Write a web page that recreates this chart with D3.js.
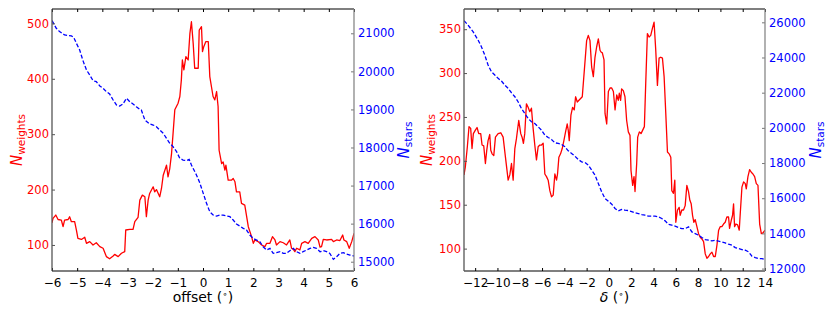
<!DOCTYPE html>
<html>
<head>
<meta charset="utf-8">
<script src="https://cdn.jsdelivr.net/npm/d3@7"></script>
<style>
  body { margin: 0; background: #fff; }
  text { font-family: "DejaVu Sans", sans-serif; }
</style>
</head>
<body>
<div id="chart"></div>
<script>
// left panel: weights vs offset
var offsetWeights = [[-6,140],[-5.96,148],[-5.85,154],[-5.76,146],[-5.63,145],[-5.56,133],[-5.5,145],[-5.36,146],[-5.3,151],[-5.23,142],[-5.1,142],[-5.03,127],[-4.97,112],[-4.83,110],[-4.7,114],[-4.63,103],[-4.5,106],[-4.37,100],[-4.24,104],[-4.1,97],[-3.97,94],[-3.84,79],[-3.71,75],[-3.57,80],[-3.51,83],[-3.37,79],[-3.24,85],[-3.11,88],[-3.07,127],[-2.91,128],[-2.78,128],[-2.71,142],[-2.58,150],[-2.51,181],[-2.41,190],[-2.31,187],[-2.25,151],[-2.18,181],[-2.12,193],[-1.98,205],[-1.92,196],[-1.85,200],[-1.72,187],[-1.65,202],[-1.58,226],[-1.45,244],[-1.39,223],[-1.32,238],[-1.25,265],[-1.19,301],[-1.12,344],[-0.99,356],[-0.92,368],[-0.86,398],[-0.82,434],[-0.76,416],[-0.68,440],[-0.59,434],[-0.52,482],[-0.46,503],[-0.39,464],[-0.33,419],[-0.19,419],[-0.15,488],[-0.06,494],[-0.02,449],[0.03,458],[0.11,467],[0.21,467],[0.27,404],[0.40,368],[0.47,362],[0.54,377],[0.60,350],[0.64,271],[0.74,247],[0.80,250],[0.87,235],[0.91,244],[1.00,217],[1.13,217],[1.20,220],[1.27,214],[1.33,196],[1.46,196],[1.53,175],[1.66,172],[1.80,133],[1.93,115],[2.00,103],[2.06,109],[2.19,106],[2.33,100],[2.46,97],[2.53,103],[2.66,103],[2.76,115],[2.86,109],[2.92,100],[3.06,106],[3.19,104],[3.32,100],[3.45,109],[3.52,94],[3.59,92],[3.65,88],[3.72,94],[3.85,91],[3.92,103],[4.05,106],[4.18,103],[4.32,112],[4.45,115],[4.58,109],[4.65,96],[4.71,97],[4.78,110],[4.91,109],[5.11,110],[5.18,106],[5.31,109],[5.44,108],[5.55,118],[5.60,109],[5.71,106],[5.81,94],[5.91,106],[6.0,121]];

var offsetStars = [[-6,21333],[-5.83,21131],[-5.70,21044],[-5.50,20956],[-5.23,20930],[-5.14,20895],[-5.03,20737],[-4.90,20562],[-4.77,20282],[-4.63,20036],[-4.50,19905],[-4.37,19756],[-4.24,19730],[-4.10,19616],[-3.97,19555],[-3.84,19467],[-3.71,19406],[-3.57,19248],[-3.44,19117],[-3.31,19090],[-3.18,19143],[-3.04,19292],[-2.91,19204],[-2.78,19143],[-2.65,19073],[-2.51,19003],[-2.45,18985],[-2.31,18722],[-2.12,18617],[-1.98,18591],[-1.85,18547],[-1.72,18460],[-1.58,18372],[-1.45,18241],[-1.32,18109],[-1.19,18022],[-1.05,17890],[-0.92,17715],[-0.79,17671],[-0.66,17654],[-0.55,17689],[-0.46,17540],[-0.26,17277],[-0.13,17076],[0.01,16796],[0.14,16533],[0.27,16314],[0.40,16226],[0.54,16200],[0.67,16226],[0.80,16226],[0.93,16200],[1.07,16182],[1.20,16095],[1.33,15990],[1.46,15937],[1.60,15876],[1.73,15832],[1.86,15701],[2.00,15613],[2.13,15569],[2.26,15525],[2.39,15394],[2.53,15307],[2.66,15350],[2.79,15219],[2.92,15236],[3.06,15263],[3.19,15219],[3.32,15219],[3.45,15289],[3.59,15350],[3.72,15263],[3.85,15219],[3.98,15263],[4.12,15307],[4.25,15350],[4.38,15377],[4.51,15350],[4.65,15263],[4.78,15289],[4.91,15263],[5.04,15219],[5.18,15061],[5.31,15131],[5.44,15219],[5.58,15236],[5.71,15201],[5.84,15175],[6.0,15149]];

// right panel: weights vs declination
var deltaWeights = [[-13,184],[-12.88,193],[-12.70,216],[-12.55,239],[-12.40,237],[-12.28,214],[-12.16,231],[-11.98,235],[-11.83,238],[-11.68,231],[-11.50,231],[-11.38,218],[-11.23,217],[-11.08,197],[-10.96,212],[-10.84,223],[-10.69,230],[-10.60,212],[-10.48,208],[-10.33,206],[-10.18,227],[-9.94,231],[-9.70,232],[-9.49,227],[-9.28,204],[-9.04,178],[-8.89,184],[-8.74,197],[-8.59,178],[-8.44,214],[-8.30,225],[-8.09,246],[-7.91,231],[-7.79,227],[-7.67,220],[-7.55,231],[-7.40,265],[-7.25,261],[-7.10,256],[-6.95,260],[-6.80,237],[-6.65,218],[-6.50,201],[-6.35,216],[-6.20,218],[-6.05,218],[-5.90,220],[-5.75,185],[-5.60,182],[-5.45,178],[-5.30,166],[-5.15,159],[-5.00,161],[-4.85,185],[-4.70,178],[-4.61,185],[-4.49,204],[-4.34,208],[-4.19,214],[-4.04,223],[-3.89,233],[-3.74,242],[-3.65,235],[-3.56,223],[-3.41,252],[-3.26,261],[-3.11,258],[-2.99,273],[-2.84,267],[-2.69,269],[-2.54,271],[-2.39,273],[-2.00,337],[-1.85,343],[-1.70,337],[-1.55,307],[-1.40,296],[-1.25,318],[-1.10,330],[-0.95,339],[-0.80,326],[-0.71,324],[-0.59,323],[-0.44,315],[-0.35,254],[-0.20,242],[-0.05,279],[0.10,283],[0.25,283],[0.40,279],[0.55,258],[0.70,275],[0.84,269],[0.93,277],[1.05,269],[1.14,282],[1.29,280],[1.44,273],[1.59,246],[1.74,233],[1.89,229],[1.98,189],[2.13,172],[2.25,182],[2.34,165],[2.49,197],[2.58,227],[2.73,233],[2.88,231],[3.03,235],[3.18,239],[3.30,288],[3.45,345],[3.60,341],[3.75,343],[3.90,351],[4.05,358],[4.20,326],[4.35,286],[4.50,317],[4.65,318],[4.80,317],[4.95,296],[5.10,254],[5.25,210],[5.40,208],[5.55,204],[5.64,166],[5.79,163],[5.91,178],[6.00,130],[6.15,144],[6.30,147],[6.39,138],[6.54,144],[6.69,144],[6.84,149],[6.99,172],[7.14,165],[7.26,155],[7.38,151],[7.50,138],[7.62,130],[7.74,133],[7.89,125],[8.04,117],[8.19,113],[8.34,111],[8.49,108],[8.64,94],[8.79,89],[8.94,91],[9.09,94],[9.24,96],[9.39,91],[9.54,91],[9.69,104],[9.84,121],[9.98,125],[10.13,125],[10.28,128],[10.43,130],[10.58,136],[10.73,136],[10.82,123],[10.97,132],[11.09,138],[11.18,151],[11.27,125],[11.39,128],[11.54,127],[11.69,121],[11.78,140],[11.93,170],[12.08,176],[12.23,174],[12.32,168],[12.47,182],[12.62,190],[12.77,187],[12.92,185],[13.07,182],[13.22,174],[13.37,172],[13.52,128],[13.67,117],[13.82,118],[14.0,121]];

var deltaStars = [[-13,26095],[-12.64,25848],[-12.19,25469],[-11.74,24995],[-11.44,24615],[-11.14,24141],[-10.84,23572],[-10.54,23192],[-10.24,23003],[-9.94,22813],[-9.64,22661],[-9.34,22434],[-9.04,22244],[-8.74,21997],[-8.44,21770],[-8.15,21485],[-7.85,21106],[-7.55,20821],[-7.25,20537],[-6.95,20347],[-6.65,20252],[-6.35,20062],[-6.05,19873],[-5.75,19588],[-5.45,19455],[-5.15,19342],[-4.85,19152],[-4.55,19114],[-4.25,19057],[-3.95,18924],[-3.65,18696],[-3.35,18545],[-3.05,18393],[-2.75,18203],[-2.45,18071],[-2.15,18033],[-1.85,17881],[-1.55,17596],[-1.25,17312],[-0.95,16837],[-0.65,16363],[-0.35,15984],[-0.05,15832],[0.25,15661],[0.55,15415],[0.84,15282],[1.14,15358],[1.44,15320],[1.74,15301],[2.04,15244],[2.34,15168],[2.64,15130],[2.94,15073],[3.24,15035],[3.54,14978],[3.84,14978],[4.14,14978],[4.44,14940],[4.74,14846],[5.04,14713],[5.34,14523],[5.64,14466],[5.94,14409],[6.24,14333],[6.54,14276],[6.84,14276],[7.14,14371],[7.44,14087],[7.74,13992],[8.04,13897],[8.34,13764],[8.64,13650],[8.94,13612],[9.24,13575],[9.54,13612],[9.84,13556],[10.13,13518],[10.43,13461],[10.73,13385],[11.03,13328],[11.33,13195],[11.63,13138],[11.93,13081],[12.23,13043],[12.53,12949],[12.83,12702],[13.13,12626],[13.43,12569],[13.73,12569],[14.0,12512]];

// ticks
var offsetTicks = [-6,-5,-4,-3,-2,-1,0,1,2,3,4,5,6];
var offsetWeightTicks = [100,200,300,400,500];
var offsetStarTicks = [15000,16000,17000,18000,19000,20000,21000];
var deltaTicks = [-12,-10,-8,-6,-4,-2,0,2,4,6,8,10,12,14];
var deltaWeightTicks = [100,150,200,250,300,350];
var deltaStarTicks = [12000,14000,16000,18000,20000,22000,24000,26000];

var W = 830, H = 312;
var svg = d3.select("#chart").append("svg")
  .attr("width", W)
  .attr("height", H);

function drawPanel(cfg) {
  var w = cfg.right - cfg.left, h = 262;
  var g = svg.append("g").attr("transform", "translate(" + cfg.left + ",9)");

  var x = d3.scaleLinear().domain(cfg.xDomain).range([0, w]);
  var yR = d3.scaleLinear().domain(cfg.redDomain).range([h, 0]);
  var yB = d3.scaleLinear().domain(cfg.blueDomain).range([h, 0]);

  var clipId = "clip" + cfg.left;
  g.append("clipPath").attr("id", clipId)
    .append("rect").attr("width", w).attr("height", h);

  // curves
  var redLine = d3.line().x(function(d){ return x(d[0]); }).y(function(d){ return yR(d[1]); });
  var blueLine = d3.line().x(function(d){ return x(d[0]); }).y(function(d){ return yB(d[1]); });

  g.append("path").datum(cfg.red)
    .attr("clip-path", "url(#" + clipId + ")")
    .attr("d", redLine)
    .attr("fill", "none").attr("stroke", "#ff0000").attr("stroke-width", 1.3)
    .attr("stroke-linejoin", "round");

  g.append("path").datum(cfg.blue)
    .attr("clip-path", "url(#" + clipId + ")")
    .attr("d", blueLine)
    .attr("fill", "none").attr("stroke", "#0000ff").attr("stroke-width", 1.3)
    .attr("stroke-dasharray", "4,2");

  // axes
  var bottom = g.append("g").attr("transform", "translate(0," + h + ")")
    .call(d3.axisBottom(x).tickValues(cfg.xTicks).tickSize(-3).tickSizeOuter(0).tickPadding(7));
  bottom.selectAll("text").attr("fill", "#000").style("font-size", "12px");
  bottom.selectAll("line").attr("stroke", "#000");

  var top = g.append("g")
    .call(d3.axisTop(x).tickValues(cfg.xTicks).tickSize(-3).tickSizeOuter(0).tickFormat(""));
  top.selectAll("line").attr("stroke", "#000");

  var left = g.append("g")
    .call(d3.axisLeft(yR).tickValues(cfg.redTicks).tickSize(-3).tickSizeOuter(0).tickPadding(3));
  left.selectAll("text").attr("fill", "#ff0000").style("font-size", "11.5px");
  left.selectAll("line").attr("stroke", "#555");

  var right = g.append("g").attr("transform", "translate(" + w + ",0)")
    .call(d3.axisRight(yB).tickValues(cfg.blueTicks).tickSize(-3).tickSizeOuter(0).tickPadding(4)
      .tickFormat(d3.format("d")));
  right.selectAll("text").attr("fill", "#0000ff").style("font-size", "11.5px");
  right.selectAll("line").attr("stroke", "#777");

  svg.selectAll(".domain").remove();

  // spines
  g.append("line").attr("x1", 0).attr("x2", w).attr("y1", 0).attr("y2", 0).attr("stroke", "#000").attr("stroke-width", 1.2);
  g.append("line").attr("x1", 0).attr("x2", w).attr("y1", h).attr("y2", h).attr("stroke", "#000").attr("stroke-width", 1.2);
  g.append("line").attr("x1", 0).attr("x2", 0).attr("y1", 0).attr("y2", h).attr("stroke", "#555").attr("stroke-width", 1.3);
  g.append("line").attr("x1", w).attr("x2", w).attr("y1", 0).attr("y2", h).attr("stroke", "#888").attr("stroke-width", 1.3);

  // y labels
  var lab = svg.append("text")
    .attr("transform", "translate(" + cfg.redLabelX + ",140) rotate(-90)")
    .attr("text-anchor", "middle").attr("fill", "#ff0000").style("font-size", "15px");
  lab.append("tspan").attr("font-style", "italic").text("N");
  lab.append("tspan").attr("dy", 3).style("font-size", "10.5px").text("weights");

  var lab2 = svg.append("text")
    .attr("transform", "translate(" + cfg.blueLabelX + ",140) rotate(-90)")
    .attr("text-anchor", "middle").attr("fill", "#0000ff").style("font-size", "15px");
  lab2.append("tspan").attr("font-style", "italic").text("N");
  lab2.append("tspan").attr("dy", 3).style("font-size", "10.5px").text("stars");

  // x label
  var xl = svg.append("text")
    .attr("x", cfg.left + w / 2).attr("y", 302)
    .attr("text-anchor", "middle").attr("fill", "#000").style("font-size", "14px");
  if (cfg.xItalic) {
    xl.append("tspan").attr("font-style", "italic").text(cfg.xName);
  } else {
    xl.append("tspan").text(cfg.xName);
  }
  xl.append("tspan").text(" (");
  xl.append("tspan").attr("dy", -5).style("font-size", "9px").text("∘");
  xl.append("tspan").attr("dy", 5).text(")");
}

drawPanel({
  left: 52, right: 354,
  xDomain: [-6, 6], xTicks: offsetTicks,
  redDomain: [53, 526], redTicks: offsetWeightTicks,
  blueDomain: [14756, 21638], blueTicks: offsetStarTicks,
  red: offsetWeights, blue: offsetStars,
  redLabelX: 22, blueLabelX: 409,
  xName: "offset", xItalic: false
});

drawPanel({
  left: 464, right: 765,
  xDomain: [-13, 14], xTicks: deltaTicks,
  redDomain: [74.5, 373], redTicks: deltaWeightTicks,
  blueDomain: [11863, 26757], blueTicks: deltaStarTicks,
  red: deltaWeights, blue: deltaStars,
  redLabelX: 432, blueLabelX: 821,
  xName: "δ", xItalic: true
});
</script>
</body>
</html>
